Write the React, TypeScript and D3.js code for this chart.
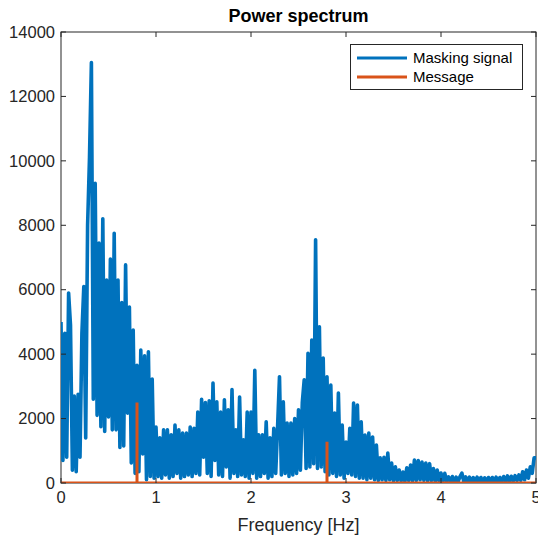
import React from 'react';
import * as d3 from 'd3';

// power of the masking signal, sampled every 0.02 Hz from 0 to 5 Hz
const freqStep = 0.02;
const maskingPower = [
  // 0.00 - 0.98
  5000, 700, 4650, 800, 5900, 4900, 400, 2700, 350, 2750,
  800, 4650, 6100, 1400, 8000, 10100, 13050, 2600, 9300, 2100,
  7450, 1750, 8200, 1600, 6300, 2050, 6950, 1650, 7750, 1650,
  6300, 1100, 5600, 1150, 6770, 2170, 5460, 620, 4750, 300,
  3650, 350, 4130, 900, 3950, 100, 4070, 200, 3230, 150,
  // 1.00 - 1.98
  1740, 200, 1400, 150, 1650, 250, 1650, 150, 1500, 200,
  1800, 300, 1650, 150, 1550, 200, 1550, 250, 1740, 200,
  1700, 300, 2200, 250, 2600, 800, 2500, 300, 2550, 200,
  3100, 700, 2520, 250, 2200, 200, 2580, 500, 2270, 150,
  2900, 300, 1650, 200, 2670, 250, 1340, 200, 2200, 150,
  // 2.00 - 2.98
  2200, 300, 3500, 150, 1500, 200, 1500, 300, 1900, 150,
  1400, 200, 1700, 300, 1750, 3300, 250, 2520, 300, 1860,
  200, 1860, 250, 2000, 300, 2270, 400, 2500, 3200, 450,
  4030, 500, 4440, 600, 7550, 450, 4850, 500, 3880, 350,
  3300, 250, 3040, 300, 2170, 200, 2790, 250, 1800, 150,
  // 3.00 - 3.98
  1270, 300, 1700, 250, 2480, 200, 2420, 150, 1900, 150,
  1490, 100, 1550, 150, 1430, 100, 1180, 80, 780, 100,
  800, 80, 930, 100, 620, 60, 500, 80, 400, 60,
  340, 50, 470, 80, 560, 60, 710, 80, 700, 100,
  650, 80, 620, 60, 600, 80, 450, 50, 400, 60,
  // 4.00 - 5.00
  310, 40, 300, 50, 190, 40, 200, 30, 180, 40,
  200, 310, 40, 190, 30, 180, 40, 170, 30, 180,
  30, 170, 40, 160, 30, 170, 30, 170, 40, 180,
  30, 170, 40, 200, 50, 220, 40, 210, 60, 230,
  70, 250, 80, 350, 100, 400, 150, 500, 300, 780,
  780,
];

// message: flat zero with two narrow spikes
const messageFreq = [0, 0.8, 0.8, 0.8, 2.8, 2.8, 2.8, 5];
const messagePower = [0, 0, 2500, 0, 0, 1280, 0, 0];

const xTicks = [0, 1, 2, 3, 4, 5];
const yTicks = [0, 2000, 4000, 6000, 8000, 10000, 12000, 14000];
const legendLabels = ['Masking signal', 'Message'];

const W = 538;
const H = 537;
const m = { left: 61, right: 536, top: 32, bottom: 483 };
const blue = '#0072BD';
const red = '#D95319';
const axisColor = '#262626';
const font = 'Liberation Sans, Arial, Helvetica, sans-serif';

export default function App() {
  const x = d3.scaleLinear().domain([0, 5]).range([m.left, m.right]);
  const y = d3.scaleLinear().domain([0, 14000]).range([m.bottom, m.top]);

  const maskLine = d3
    .line<number>()
    .x((d, i) => x(i * freqStep))
    .y((d) => y(d));
  const msgLine = d3
    .line<number>()
    .x((d, i) => x(messageFreq[i]))
    .y((d) => y(d));

  const tickLen = 5;
  const colors = [blue, red];

  return (
    <div style={{ position: 'absolute', left: 0, top: 0 }}>
      <svg width={W} height={H} style={{ display: 'block', fontFamily: font }}>
        <rect width={W} height={H} fill="#fff" />
        <defs>
          <clipPath id="plotArea">
            <rect x={m.left} y={m.top} width={m.right - m.left} height={m.bottom - m.top} />
          </clipPath>
        </defs>

        <text x={(m.left + m.right) / 2} y={22} textAnchor="middle" fontSize={18} fontWeight="bold" fill="#000">
          Power spectrum
        </text>

        {/* axes box */}
        <rect x={m.left} y={m.top} width={m.right - m.left} height={m.bottom - m.top} fill="none" stroke={axisColor} strokeWidth={1} />

        <g clipPath="url(#plotArea)">
          <path d={maskLine(maskingPower) || ''} fill="none" stroke={blue} strokeWidth={3.6} strokeLinejoin="round" />
          <path d={msgLine(messagePower) || ''} fill="none" stroke={red} strokeWidth={3} />
        </g>

        {xTicks.map((t) => (
          <g key={'x' + t}>
            <line x1={x(t)} x2={x(t)} y1={m.bottom} y2={m.bottom - tickLen} stroke={axisColor} />
            <line x1={x(t)} x2={x(t)} y1={m.top} y2={m.top + tickLen} stroke={axisColor} />
            <text x={x(t)} y={503} textAnchor="middle" fontSize={16.5} fill={axisColor}>
              {t}
            </text>
          </g>
        ))}
        {yTicks.map((t) => (
          <g key={'y' + t}>
            <line x1={m.left} x2={m.left + tickLen} y1={y(t)} y2={y(t)} stroke={axisColor} />
            <line x1={m.right} x2={m.right - tickLen} y1={y(t)} y2={y(t)} stroke={axisColor} />
            <text x={55} y={y(t)} dy="0.35em" textAnchor="end" fontSize={16.5} fill={axisColor}>
              {t}
            </text>
          </g>
        ))}

        <text x={(m.left + m.right) / 2} y={531} textAnchor="middle" fontSize={18} fill={axisColor}>
          Frequency [Hz]
        </text>

        {/* legend */}
        <rect x={350.5} y={44.5} width={172} height={45} fill="#fff" stroke={axisColor} strokeWidth={1} />
        {legendLabels.map((label, i) => (
          <g key={label}>
            <line x1={357} x2={407} y1={58 + i * 19} y2={58 + i * 19} stroke={colors[i]} strokeWidth={3} />
            <text x={413} y={58 + i * 19} dy="0.35em" fontSize={15} fill="#000">
              {label}
            </text>
          </g>
        ))}
      </svg>
    </div>
  );
}
